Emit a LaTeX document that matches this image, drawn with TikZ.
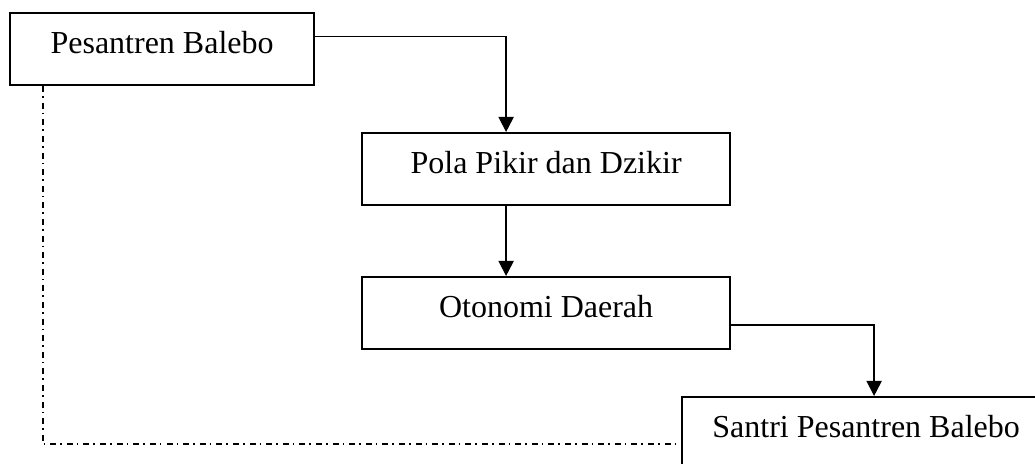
\documentclass[tikz,border=0pt]{standalone}
\usepackage{fontspec}
\setmainfont{Liberation Serif}
\usetikzlibrary{arrows.meta}

\begin{document}
\begin{tikzpicture}[x=0.5pt,y=-0.5pt,->,>={Triangle[width=7.5pt,length=7.5pt]},
  line width=0.9pt,
  main box/.style={draw,rectangle,anchor=north west,line width=1.1pt,
  font=\fontsize{16pt}{19pt}\selectfont,minimum width=184pt,
  inner xsep=0pt,inner ysep=0pt,text height=20pt,text depth=16pt},
  dash dot line/.style={-,dash pattern=on 3pt off 2pt on 0.8pt off 2.5pt}]

  \path[use as bounding box,clip] (0,0) rectangle (1035,464);

  \node[main box,minimum width=152pt] (balebo) at (9,12) {Pesantren Balebo};
  \node[main box] (pola) at (361,132) {Pola Pikir dan Dzikir};
  \node[main box] (otonomi) at (361,276) {Otonomi Daerah};
  \node[main box] (santri) at (681,396) {Santri Pesantren Balebo};

  % arrows between the boxes, from top to bottom
  \draw ([yshift=6.25pt]balebo.east) -| ([xshift=-20pt]pola.north);
  \draw ([xshift=-20pt]pola.south) -- ([xshift=-20pt]otonomi.north);
  \draw ([yshift=-6pt]otonomi.east) -| ([xshift=4pt]santri.north);
  \draw[dash dot line] ([xshift=17pt]balebo.south west) |- ([yshift=-5.5pt]santri.west);

\end{tikzpicture}
\end{document}
